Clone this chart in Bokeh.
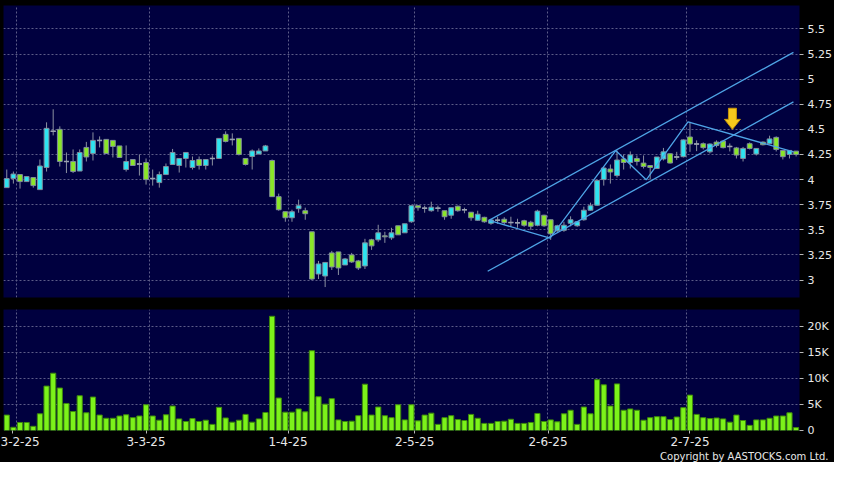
from bokeh.plotting import figure
from bokeh.layouts import column
from bokeh.models import Range1d, FixedTicker, Title, ColumnDataSource
from bokeh.embed import file_html
from bokeh.resources import INLINE

# ---------------- data ----------------
OPEN = [3.92, 4.01, 4.05, 3.98, 4.02, 3.90, 4.12, 4.48, 4.50, 4.18,
        4.18, 4.085, 4.32, 4.26, 4.39, 4.40, 4.39, 4.335, 4.10, 4.20,
        4.155, 4.17, 4.01, 3.97, 4.05, 4.15, 4.14, 4.21, 4.12, 4.20,
        4.14, 4.21, 4.21, 4.45, 4.40, 4.41, 4.21, 4.23, 4.255, 4.285,
        4.19, 3.83, 3.68, 3.62, 3.71, 3.69, 3.48, 3.06, 3.04, 3.27,
        3.28, 3.15, 3.25, 3.19, 3.14, 3.40, 3.40, 3.44, 3.42, 3.54,
        3.47, 3.58, 3.74, 3.715, 3.69, 3.715, 3.69, 3.645, 3.735, 3.70,
        3.675, 3.595, 3.624, 3.565, 3.595, 3.605, 3.572, 3.57, 3.59, 3.575,
        3.545, 3.645, 3.60, 3.49, 3.495, 3.565, 3.54, 3.60, 3.695, 3.745,
        4.00, 4.105, 4.04, 4.205, 4.17, 4.21, 4.164, 4.14, 4.11, 4.205,
        4.257, 4.225, 4.228, 4.424, 4.354, 4.357, 4.276, 4.373, 4.383, 4.33,
        4.315, 4.21, 4.357, 4.254, 4.373, 4.357, 4.42, 4.29, 4.25, 4.283]
HIGH = [4.10, 4.08, 4.05, 4.03, 4.02, 4.20, 4.57, 4.70, 4.53, 4.27,
        4.30, 4.30, 4.375, 4.47, 4.43, 4.40, 4.39, 4.335, 4.34, 4.20,
        4.25, 4.21, 4.10, 4.08, 4.16, 4.305, 4.21, 4.27, 4.23, 4.23,
        4.20, 4.24, 4.41, 4.48, 4.46, 4.41, 4.21, 4.30, 4.31, 4.345,
        4.20, 3.86, 3.68, 3.70, 3.80, 3.72, 3.48, 3.19, 3.18, 3.29,
        3.28, 3.22, 3.27, 3.20, 3.41, 3.41, 3.55, 3.48, 3.52, 3.54,
        3.56, 3.74, 3.74, 3.74, 3.78, 3.74, 3.69, 3.72, 3.74, 3.72,
        3.675, 3.69, 3.63, 3.61, 3.63, 3.625, 3.63, 3.61, 3.60, 3.59,
        3.70, 3.65, 3.60, 3.55, 3.58, 3.634, 3.58, 3.73, 3.77, 4.00,
        4.13, 4.15, 4.29, 4.25, 4.28, 4.24, 4.24, 4.14, 4.225, 4.315,
        4.26, 4.276, 4.40, 4.575, 4.39, 4.37, 4.36, 4.39, 4.39, 4.36,
        4.325, 4.325, 4.37, 4.31, 4.38, 4.437, 4.43, 4.29, 4.29, 4.283]
LOW = [3.92, 3.96, 3.91, 3.98, 3.92, 3.90, 4.08, 4.44, 4.13, 4.065,
       4.065, 4.085, 4.18, 4.19, 4.32, 4.26, 4.22, 4.22, 4.08, 4.14,
       4.04, 3.95, 3.94, 3.92, 4.05, 4.15, 4.07, 4.12, 4.10, 4.10,
       4.10, 4.14, 4.21, 4.37, 4.34, 4.24, 4.14, 4.10, 4.25, 4.285,
       3.83, 3.69, 3.58, 3.58, 3.67, 3.60, 3.00, 3.01, 2.93, 3.10,
       3.05, 3.15, 3.17, 3.10, 3.11, 3.30, 3.38, 3.37, 3.40, 3.45,
       3.47, 3.57, 3.69, 3.67, 3.68, 3.68, 3.60, 3.61, 3.68, 3.665,
       3.59, 3.59, 3.57, 3.55, 3.56, 3.55, 3.53, 3.52, 3.53, 3.50,
       3.535, 3.53, 3.40, 3.48, 3.48, 3.535, 3.53, 3.59, 3.69, 3.74,
       3.94, 3.96, 4.02, 4.10, 4.11, 4.14, 4.11, 4.00, 4.11, 4.19,
       4.16, 4.196, 4.22, 4.276, 4.283, 4.30, 4.26, 4.32, 4.31, 4.28,
       4.21, 4.18, 4.30, 4.24, 4.34, 4.35, 4.28, 4.20, 4.21, 4.23]
CLOSE = [4.01, 4.055, 3.98, 4.03, 3.94, 4.135, 4.51, 4.48, 4.18, 4.18,
         4.08, 4.27, 4.225, 4.39, 4.39, 4.26, 4.33, 4.22, 4.18, 4.14,
         4.155, 4.00, 4.01, 4.05, 4.13, 4.27, 4.21, 4.27, 4.19, 4.14,
         4.20, 4.21, 4.41, 4.38, 4.40, 4.25, 4.15, 4.285, 4.285, 4.335,
         3.83, 3.70, 3.62, 3.68, 3.74, 3.66, 3.01, 3.16, 3.175, 3.13,
         3.12, 3.21, 3.18, 3.12, 3.37, 3.34, 3.47, 3.43, 3.47, 3.45,
         3.56, 3.74, 3.72, 3.715, 3.725, 3.715, 3.63, 3.72, 3.69, 3.70,
         3.62, 3.655, 3.58, 3.598, 3.595, 3.572, 3.572, 3.57, 3.545, 3.535,
         3.686, 3.54, 3.46, 3.54, 3.545, 3.60, 3.58, 3.695, 3.74, 3.99,
         4.115, 4.075, 4.195, 4.17, 4.245, 4.18, 4.13, 4.12, 4.225, 4.276,
         4.165, 4.225, 4.395, 4.354, 4.354, 4.318, 4.354, 4.34, 4.318, 4.33,
         4.244, 4.31, 4.31, 4.31, 4.347, 4.405, 4.30, 4.228, 4.29, 4.25]
VOLUME_K = [2.98, 0.62, 1.55, 1.55, 0.81, 3.23, 8.57, 11.06, 8.2, 5.22,
            3.66, 6.71, 3.42, 6.46, 2.98, 2.36, 2.36, 2.8, 3.04, 2.48,
            2.8, 4.97, 2.8, 1.99, 3.04, 4.72, 2.24, 1.74, 2.3, 1.74,
            1.99, 1.18, 4.47, 2.42, 1.61, 1.99, 3.11, 1.61, 2.24, 3.48,
            22.05, 6.27, 3.54, 3.54, 4.16, 3.6, 15.4, 6.52, 5.09, 6.15,
            2.05, 1.74, 1.8, 2.86, 8.94, 2.98, 4.53, 2.86, 2.48, 4.97,
            2.05, 4.97, 1.86, 2.98, 3.35, 1.18, 2.48, 2.86, 2.11, 1.93,
            3.11, 2.36, 1.37, 1.37, 1.74, 1.8, 2.17, 1.37, 1.37, 1.55,
            3.29, 1.74, 2.05, 1.68, 3.23, 3.91, 1.18, 4.53, 3.23, 9.81,
            8.82, 4.72, 9.0, 3.91, 4.16, 3.91, 1.99, 2.48, 2.67, 2.67,
            2.11, 2.61, 4.41, 6.83, 3.11, 2.48, 2.3, 2.42, 2.24, 1.61,
            2.98, 1.93, 0.99, 2.05, 2.05, 2.36, 2.8, 2.8, 3.42, 0.56]

DATE_TICKS = [0.9, 21.0, 42.4, 61.5, 81.6, 103.0]
DATE_LABELS = ["3-2-25", "3-3-25", "1-4-25", "2-5-25", "2-6-25", "2-7-25"]
DATE_GRID = [1.5, 21.5, 42.5, 61.5, 81.5, 102.5]
PRICE_TICKS = [3.0, 3.25, 3.5, 3.75, 4.0, 4.25, 4.5, 4.75, 5.0, 5.25, 5.5]
PRICE_LABELS = ["3", "3.25", "3.5", "3.75", "4", "4.25", "4.5", "4.75", "5", "5.25", "5.5"]
VOL_TICKS = [0, 5, 10, 15, 20]
VOL_LABELS = ["0", "5K", "10K", "15K", "20K"]
COPYRIGHT = "Copyright by AASTOCKS.com Ltd."

# drawn trend lines (bar index, price)
UPPER_X = [72.7, 118.6]
UPPER_Y = [3.594, 5.267]
LOWER_X = [72.5, 118.6]
LOWER_Y = [3.087, 4.773]
ZIGZAG_X = [72.7, 81.9, 91.8, 96.4, 102.7, 118.6]
ZIGZAG_Y = [3.594, 3.417, 4.289, 3.998, 4.575, 4.276]
ARROW_X = 109.4
ARROW_TIP = 4.50
ARROW_TAIL = 4.71

# ---------------- style ----------------
NAVY = "#00003f"
GRID = "#5c5c88"
TXT = "#e8e8e8"
CYAN = "#2ee4f0"
GREEN = "#8ae628"
DOJI = "#9aa0b0"
EDGE = "#7f8c9c"
WICK = "#8a90a0"
VOL_FILL = "#7cf21a"
VOL_EDGE = "#3e8a0c"
TREND = "#4ea4e6"
FONT = "DejaVu Sans"

W = 834
LEFT = 3
RIGHT = 33
TOP = 5
PRICE_H = 292
GAP = 12
VOL_H = 121
BOTTOM = 32
PRICE_RANGE = (2.826, 5.733)

n = len(OPEN)
idx = list(range(n))
x_range = Range1d(-0.49, 119.51)

fills = []
for o, c in zip(OPEN, CLOSE):
    fills.append(CYAN if c > o else (GREEN if c < o else DOJI))
src = ColumnDataSource(dict(
    x=idx, high=HIGH, low=LOW,
    top=[max(o, c) for o, c in zip(OPEN, CLOSE)],
    bottom=[min(o, c) for o, c in zip(OPEN, CLOSE)],
    fill=fills))
doji_x = [i for i in idx if OPEN[i] == CLOSE[i]]
doji_src = ColumnDataSource(dict(
    x0=[i - 0.38 for i in doji_x], x1=[i + 0.38 for i in doji_x],
    y=[OPEN[i] for i in doji_x]))


def style_axis(ax, size, tick_out=4, standoff=4):
    ax.axis_line_color = None
    ax.major_tick_line_color = "#b8b8b8"
    ax.major_tick_in = 0
    ax.major_tick_out = tick_out
    ax.minor_tick_line_color = None
    ax.major_label_text_color = TXT
    ax.major_label_text_font = FONT
    ax.major_label_text_font_size = size
    ax.major_label_standoff = standoff


def style_grid(fig, yticks):
    fig.ygrid.ticker = FixedTicker(ticks=yticks)
    fig.xgrid.ticker = FixedTicker(ticks=DATE_GRID)
    for g in (fig.xgrid[0], fig.ygrid[0]):
        g.grid_line_color = GRID
        g.grid_line_dash = "2 2"
        g.grid_line_width = 1


p = figure(width=W, height=TOP + PRICE_H + GAP, x_range=x_range,
           y_range=Range1d(*PRICE_RANGE),
           x_axis_location=None, y_axis_location="right",
           output_backend="svg", toolbar_location=None,
           min_border_left=LEFT, min_border_top=TOP, min_border_right=RIGHT,
           min_border_bottom=GAP,
           background_fill_color=NAVY, border_fill_color="black",
           outline_line_color=None)
p.yaxis.ticker = FixedTicker(ticks=PRICE_TICKS)
p.yaxis.major_label_overrides = {t: l for t, l in zip(PRICE_TICKS, PRICE_LABELS)}
style_axis(p.yaxis[0], "11px")
style_grid(p, PRICE_TICKS)

p.segment(x0="x", y0="low", x1="x", y1="high", line_color=WICK, line_width=1, source=src)
p.vbar(x="x", width=0.72, top="top", bottom="bottom", fill_color="fill",
       line_color=EDGE, line_width=1, source=src)
p.segment(x0="x0", y0="y", x1="x1", y1="y", line_color=DOJI, line_width=1.5, source=doji_src)

p.line(UPPER_X, UPPER_Y, line_color=TREND, line_width=1.3)
p.line(LOWER_X, LOWER_Y, line_color=TREND, line_width=1.3)
p.line(ZIGZAG_X, ZIGZAG_Y, line_color=TREND, line_width=1.3)

# yellow arrow (shaft + head), sized from the data scale
px_x = (x_range.end - x_range.start) / (W - LEFT - RIGHT)
px_y = (PRICE_RANGE[1] - PRICE_RANGE[0]) / PRICE_H
head_h = 10 * px_y
ax_ = [ARROW_X - 4 * px_x, ARROW_X + 4 * px_x, ARROW_X + 4 * px_x, ARROW_X + 8 * px_x,
       ARROW_X, ARROW_X - 8 * px_x, ARROW_X - 4 * px_x]
ay_ = [ARROW_TAIL, ARROW_TAIL, ARROW_TIP + head_h, ARROW_TIP + head_h,
       ARROW_TIP, ARROW_TIP + head_h, ARROW_TIP + head_h]
p.patch(ax_, ay_, fill_color="#f6c81c", line_color="#c8960a", line_width=1)

v = figure(width=W, height=VOL_H + BOTTOM, x_range=x_range,
           y_range=Range1d(0, 23.36),
           x_axis_location="below", y_axis_location="right",
           output_backend="svg", toolbar_location=None,
           min_border_left=LEFT, min_border_top=0, min_border_right=RIGHT,
           min_border_bottom=BOTTOM,
           background_fill_color=NAVY, border_fill_color="black",
           outline_line_color=None)
v.yaxis.ticker = FixedTicker(ticks=VOL_TICKS)
v.yaxis.major_label_overrides = {t: l for t, l in zip(VOL_TICKS, VOL_LABELS)}
v.xaxis.ticker = FixedTicker(ticks=DATE_TICKS)
v.xaxis.major_label_overrides = {t: l for t, l in zip(DATE_TICKS, DATE_LABELS)}
style_axis(v.yaxis[0], "11px")
style_axis(v.xaxis[0], "12px", tick_out=3, standoff=3)
style_grid(v, VOL_TICKS[1:])

v.vbar(x=idx, width=0.78, top=VOLUME_K, bottom=0, fill_color=VOL_FILL,
       line_color=VOL_EDGE, line_width=1)

v.add_layout(Title(text=COPYRIGHT, align="right", offset=-(RIGHT - 4),
                   standoff=0, text_color=TXT, text_font=FONT,
                   text_font_size="10px", text_font_style="normal"), "below")

layout = column(p, v, spacing=0, background="black")
open("out.html", "w").write(file_html(layout, INLINE))
